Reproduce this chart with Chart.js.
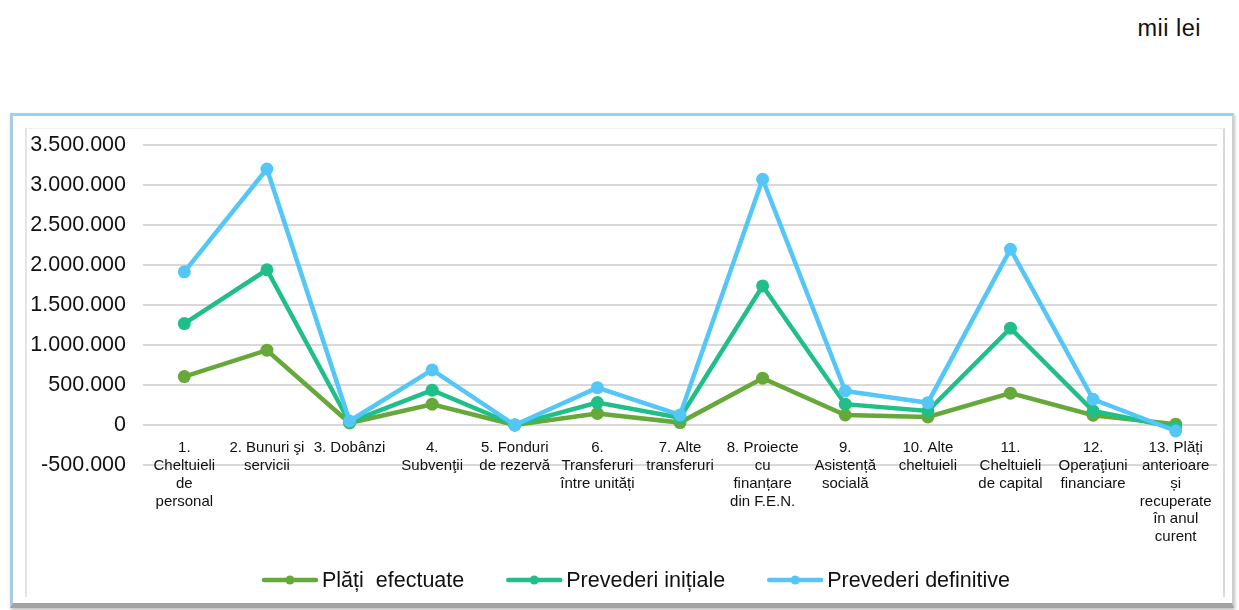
<!DOCTYPE html>
<html lang="ro">
<head>
<meta charset="utf-8">
<title>Plăți efectuate și prevederi bugetare</title>
<script src="https://cdn.jsdelivr.net/npm/chart.js@4.4.1/dist/chart.umd.min.js"></script>
<style>
  html, body { margin: 0; padding: 0; background: #ffffff; }
  body { width: 1239px; height: 610px; position: relative; overflow: hidden; font-family: "Liberation Sans", Arial, sans-serif; }
  #unit { position: absolute; right: 38px; top: 15px; font-size: 23.5px; color: #111; letter-spacing: 0.5px; }
  #frame {
    position: absolute; left: 10px; top: 113px; width: 1219px; height: 487px;
    border-top: 3px solid #93d6f4; border-left: 3px solid #a9cde0;
    border-right: 2px solid #cfcfcf; border-bottom: 5px solid #a3a3a3;
    box-shadow: 1px 2px 3px rgba(0,0,0,0.25);
    background: #ffffff;
  }
  #inner {
    position: absolute; left: 25px; top: 128px; width: 1196px; height: 468px;
    border-left: 2px solid #e4e4e4; border-top: 1px solid #f0f0f0; border-right: 2px solid #d8d8d8;
  }
  #wrap { position: absolute; left: 0; top: 0; width: 1239px; height: 610px; }
</style>
</head>
<body>
<div id="unit">mii lei</div>
<div id="frame"></div>
<div id="inner"></div>
<div id="wrap"><canvas id="chart"></canvas></div>
<script>
// Categorii de cheltuieli (etichete pe mai multe rânduri)
const categories = [
  ["1.", "Cheltuieli", "de", "personal"],
  ["2. Bunuri şi", "servicii"],
  ["3. Dobânzi"],
  ["4.", "Subvenţii"],
  ["5. Fonduri", "de rezervă"],
  ["6.", "Transferuri", "între unități"],
  ["7. Alte", "transferuri"],
  ["8. Proiecte", "cu", "finanțare", "din F.E.N."],
  ["9.", "Asistență", "socială"],
  ["10. Alte", "cheltuieli"],
  ["11.", "Cheltuieli", "de capital"],
  ["12.", "Operaţiuni", "financiare"],
  ["13. Plăți", "anterioare", "și", "recuperate", "în anul", "curent"]
];

// Valori în mii lei
const platiEfectuate      = [605000, 935000, 25000, 260000, 0, 145000, 30000, 585000, 125000, 100000, 398000, 122000, 10000];
const prevederiInitiale   = [1268000, 1940000, 35000, 435000, 0, 280000, 92000, 1738000, 260000, 175000, 1210000, 176000, -32000];
const prevederiDefinitive = [1915000, 3200000, 50000, 688000, 0, 466000, 125000, 3072000, 425000, 279000, 2197000, 322000, -75000];

const seriesNames = ["Plăți  efectuate", "Prevederi inițiale", "Prevederi definitive"];
const seriesColors = ["#66a83a", "#20bf88", "#55c6f8"];

// Axa valorilor
const yMin = -500000, yMax = 3500000, yStep = 500000;

function formatThousands(v) {
  const s = String(Math.abs(Math.round(v))).replace(/\B(?=(\d{3})+(?!\d))/g, ".");
  return (v < 0 ? "-" : "") + s;
}

// Legenda desenată sub grafic: linie cu marcaj + denumire
const bottomLegend = {
  id: "bottomLegend",
  afterDraw(chart) {
    const ctx = chart.ctx;
    const font = '21.5px "Liberation Sans", Arial, sans-serif';
    const lineLen = 56, textGap = 4, itemGap = 42;
    const y = 580;
    ctx.save();
    ctx.font = font;
    const items = chart.data.datasets.map(ds => ({
      label: ds.label, color: ds.borderColor,
      w: lineLen + textGap + ctx.measureText(ds.label).width
    }));
    const total = items.reduce((a, it) => a + it.w, 0) + itemGap * (items.length - 1);
    let x = 636 - total / 2;
    items.forEach(it => {
      ctx.strokeStyle = it.color;
      ctx.lineWidth = 4.5;
      ctx.lineCap = "round";
      ctx.beginPath();
      ctx.moveTo(x + 2, y);
      ctx.lineTo(x + lineLen - 2, y);
      ctx.stroke();
      ctx.fillStyle = it.color;
      ctx.beginPath();
      ctx.arc(x + lineLen / 2, y, 4.5, 0, Math.PI * 2);
      ctx.fill();
      ctx.fillStyle = "#111111";
      ctx.textBaseline = "middle";
      ctx.textAlign = "left";
      ctx.fillText(it.label, x + lineLen + textGap, y + 1);
      x += it.w + itemGap;
    });
    ctx.restore();
  }
};

const seriesData = [platiEfectuate, prevederiInitiale, prevederiDefinitive];

new Chart(document.getElementById("chart"), {
  type: "line",
  data: {
    labels: categories,
    datasets: seriesData.map((d, i) => ({
      label: seriesNames[i],
      data: d,
      borderColor: seriesColors[i],
      backgroundColor: seriesColors[i],
      pointBackgroundColor: seriesColors[i],
      pointBorderWidth: 0,
      pointRadius: 6.5,
      borderWidth: 4.5,
      tension: 0,
      order: 2 - i
    }))
  },
  options: {
    responsive: true,
    maintainAspectRatio: false,
    animation: false,
    layout: { padding: { left: 0, top: 145, right: 22, bottom: 145 } },
    plugins: {
      legend: { display: false },
      tooltip: { enabled: false }
    },
    scales: {
      x: {
        type: "category",
        offset: true,
        position: { y: 0 },
        grid: { display: false, drawTicks: false },
        border: { display: false },
        ticks: {
          autoSkip: false,
          maxRotation: 0,
          minRotation: 0,
          padding: 14,
          color: "#111111",
          font: { family: '"Liberation Sans", Arial, sans-serif', size: 15, lineHeight: 1.19 }
        },
        afterFit(scale) { scale.height = 0; }
      },
      y: {
        min: yMin,
        max: yMax,
        position: "left",
        grid: { color: "#d9d9d9", lineWidth: 2, drawTicks: false },
        border: { display: false },
        ticks: {
          stepSize: yStep,
          padding: 17,
          color: "#111111",
          font: { family: '"Liberation Sans", Arial, sans-serif', size: 21.5 },
          callback: v => formatThousands(v)
        },
        afterFit(scale) { scale.width = 143; }
      }
    }
  },
  plugins: [bottomLegend]
});
</script>
</body>
</html>
